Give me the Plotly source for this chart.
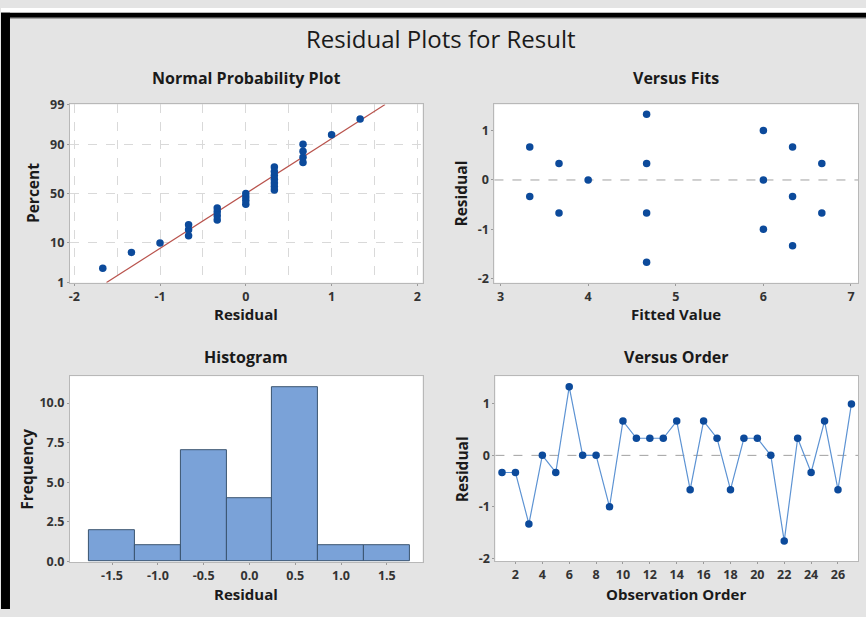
import math
import numpy as np
import plotly.graph_objects as go

# ---------------- data ----------------
obs_order = list(range(1, 28))
residual_by_order = [-0.333, -0.333, -1.333, 0.0, -0.333, 1.333, 0.0, 0.0, -1.0,
                     0.667, 0.333, 0.333, 0.333, 0.667, -0.667, 0.667, 0.333,
                     -0.667, 0.333, 0.333, 0.0, -1.667, 0.333, -0.333, 0.667,
                     -0.667, 1.0]

npp_percent = [2.55, 6.20, 9.85, 13.50, 17.15, 20.80, 24.45, 28.10, 31.75,
               35.40, 39.05, 42.70, 46.35, 50.00, 53.65, 57.30, 60.95, 64.60,
               68.25, 71.90, 75.55, 79.20, 82.85, 86.50, 90.15, 93.80, 97.45]

fits_value = [3.333, 3.333, 3.667, 3.667, 4.0, 4.667, 4.667, 4.667, 4.667,
              6.0, 6.0, 6.0, 6.333, 6.333, 6.333, 6.667, 6.667]
fits_residual = [0.667, -0.333, 0.333, -0.667, 0.0, 1.333, 0.333, -0.667, -1.667,
                 1.0, 0.0, -1.0, 0.667, -0.333, -1.333, 0.333, -0.667]

npp_tick_percent = [1, 10, 50, 90, 99]
npp_x_ticks = [-2, -1, 0, 1, 2]
fits_x_ticks = [3, 4, 5, 6, 7]
resid_ticks = [-2, -1, 0, 1]
hist_x_ticks = [-1.5, -1.0, -0.5, 0.0, 0.5, 1.0, 1.5]
hist_y_ticks = [0, 2.5, 5.0, 7.5, 10.0]
order_x_ticks = list(range(2, 27, 2))


def norm_ppf(p):
    lo, hi = -10.0, 10.0
    for _ in range(200):
        mid = 0.5 * (lo + hi)
        if 0.5 * (1 + math.erf(mid / math.sqrt(2))) < p:
            lo = mid
        else:
            hi = mid
    return 0.5 * (lo + hi)


sorted_resid = sorted(residual_by_order)
npp_z = [norm_ppf(p / 100) for p in npp_percent]
mu = float(np.mean(residual_by_order))
sd = float(np.std(residual_by_order, ddof=1))
line_z = [norm_ppf(0.01), norm_ppf(0.99)]
line_x = [mu + sd * z for z in line_z]

# ---------------- style ----------------
FONT = "Open Sans"
MARK = "#0c4a9b"
W, H = 866, 617

fig = go.Figure()

fig.add_trace(go.Scatter(x=line_x, y=line_z, mode="lines",
                         line=dict(color="#b9534d", width=1.2),
                         xaxis="x", yaxis="y", hoverinfo="skip"))
fig.add_trace(go.Scatter(x=sorted_resid, y=npp_z, mode="markers",
                         marker=dict(color=MARK, size=7.5),
                         xaxis="x", yaxis="y"))
fig.add_trace(go.Scatter(x=fits_value, y=fits_residual, mode="markers",
                         marker=dict(color=MARK, size=7.5),
                         xaxis="x2", yaxis="y2"))
fig.add_trace(go.Histogram(x=residual_by_order,
                           xbins=dict(start=-1.75, end=1.75, size=0.5),
                           marker=dict(color="#7aa2d8",
                                       line=dict(color="#3a5470", width=1)),
                           xaxis="x3", yaxis="y3"))
fig.add_trace(go.Scatter(x=obs_order, y=residual_by_order, mode="lines+markers",
                         line=dict(color="#5d93d3", width=1.2),
                         marker=dict(color=MARK, size=7.5),
                         xaxis="x4", yaxis="y4"))


def px_x(a, b):
    return [a / W, b / W]


def px_y(top, bottom):
    return [1 - bottom / H, 1 - top / H]


def labels(vals, fmt="{:g}"):
    return [fmt.format(v) for v in vals]


tickfont = dict(family=FONT, size=12.5, color="#333333", weight="bold")
base = dict(showline=True, mirror=True, linecolor="#b8b8b8", linewidth=1,
            ticks="outside", ticklen=2, tickcolor="#9a9a9a", zeroline=False,
            showgrid=False, tickfont=tickfont, fixedrange=True)

grid = dict(showgrid=True, gridcolor="#d9d9d9", griddash="dash", gridwidth=1)

fig.update_layout(
    xaxis=dict(base, **grid, domain=px_x(69, 422), anchor="y",
               range=[-2.05, 2.06], tickvals=npp_x_ticks,
               ticktext=labels(npp_x_ticks),
               minor=dict(dtick=0.5, showgrid=True, gridcolor="#d9d9d9",
                          griddash="dash", ticks="")),
    yaxis=dict(base, **grid, domain=px_y(99, 282), anchor="x",
               range=[norm_ppf(0.0099), norm_ppf(0.9901)],
               tickvals=[norm_ppf(p / 100) for p in npp_tick_percent],
               ticktext=labels(npp_tick_percent)),
    xaxis2=dict(base, domain=px_x(494, 858), anchor="y2",
                range=[2.93, 7.08], tickvals=fits_x_ticks,
                ticktext=labels(fits_x_ticks)),
    yaxis2=dict(base, domain=px_y(99, 282), anchor="x2",
                range=[-2.08, 1.53], tickvals=resid_ticks,
                ticktext=labels(resid_ticks)),
    xaxis3=dict(base, domain=px_x(69, 422), anchor="y3",
                range=[-1.96, 1.89], tickvals=hist_x_ticks,
                ticktext=labels(hist_x_ticks, "{:.1f}")),
    yaxis3=dict(base, domain=px_y(378, 569), anchor="x3",
                range=[-0.05, 11.7], tickvals=hist_y_ticks,
                ticktext=labels(hist_y_ticks, "{:.1f}")),
    xaxis4=dict(base, domain=px_x(495, 858), anchor="y4",
                range=[0.51, 27.49], tickvals=order_x_ticks,
                ticktext=labels(order_x_ticks)),
    yaxis4=dict(base, domain=px_y(378, 568), anchor="x4",
                range=[-2.06, 1.54], tickvals=resid_ticks,
                ticktext=labels(resid_ticks)),
)

shapes = [
    dict(type="rect", xref="paper", yref="paper", x0=0, x1=1,
         y0=1 - 5 / H, y1=1, fillcolor="white", line_width=0, layer="below"),
    dict(type="rect", xref="paper", yref="paper", x0=0, x1=1,
         y0=1 - 10 / H, y1=1 - 5 / H, fillcolor="black", line_width=0),
    dict(type="line", xref="paper", yref="paper", x0=0, x1=1,
         y0=1 - 10.5 / H, y1=1 - 10.5 / H, line=dict(color="#8a8a8a", width=1)),
    dict(type="rect", xref="paper", yref="paper", x0=0, x1=9 / W,
         y0=0, y1=1 - 5 / H, fillcolor="black", line_width=0),
    dict(type="line", xref="x2 domain", yref="y2", x0=0, x1=1, y0=0, y1=0,
         line=dict(color="#a0a0a0", width=1, dash="dash"), layer="below"),
    dict(type="line", xref="x4 domain", yref="y4", x0=0, x1=1, y0=0, y1=0,
         line=dict(color="#a0a0a0", width=1, dash="dash"), layer="below"),
]


def ann(text, x, y, size, bold=True, angle=0):
    return dict(text=text, x=x / W, y=1 - y / H, xref="paper", yref="paper",
                showarrow=False, xanchor="center", yanchor="middle",
                textangle=angle,
                font=dict(family=FONT, size=size, color="#1a1a1a",
                          weight="bold" if bold else "normal"))


annotations = [
    ann("Residual Plots for Result", 441, 31, 24, bold=False),
    ann("Normal Probability Plot", 245, 72, 16),
    ann("Versus Fits", 676, 72, 16),
    ann("Histogram", 245, 358, 16),
    ann("Versus Order", 676, 358, 16),
    ann("Residual", 245, 314, 15),
    ann("Fitted Value", 676, 314, 15),
    ann("Residual", 245, 602, 15),
    ann("Observation Order", 676, 602, 15),
    ann("Percent", 32, 190, 15.5, angle=-90),
    ann("Residual", 461, 190, 15.5, angle=-90),
    ann("Frequency", 26, 473, 15.5, angle=-90),
    ann("Residual", 461, 473, 15.5, angle=-90),
]

fig.update_layout(
    width=W, height=H,
    margin=dict(l=0, r=0, t=0, b=0),
    paper_bgcolor="#e4e4e4",
    plot_bgcolor="white",
    showlegend=False,
    shapes=shapes,
    annotations=annotations,
    font=dict(family=FONT),
)

fig.write_html("out.html",
               config={"displayModeBar": False},
               post_script="document.body.style.margin='0';"
                           "document.body.style.overflow='hidden';")
